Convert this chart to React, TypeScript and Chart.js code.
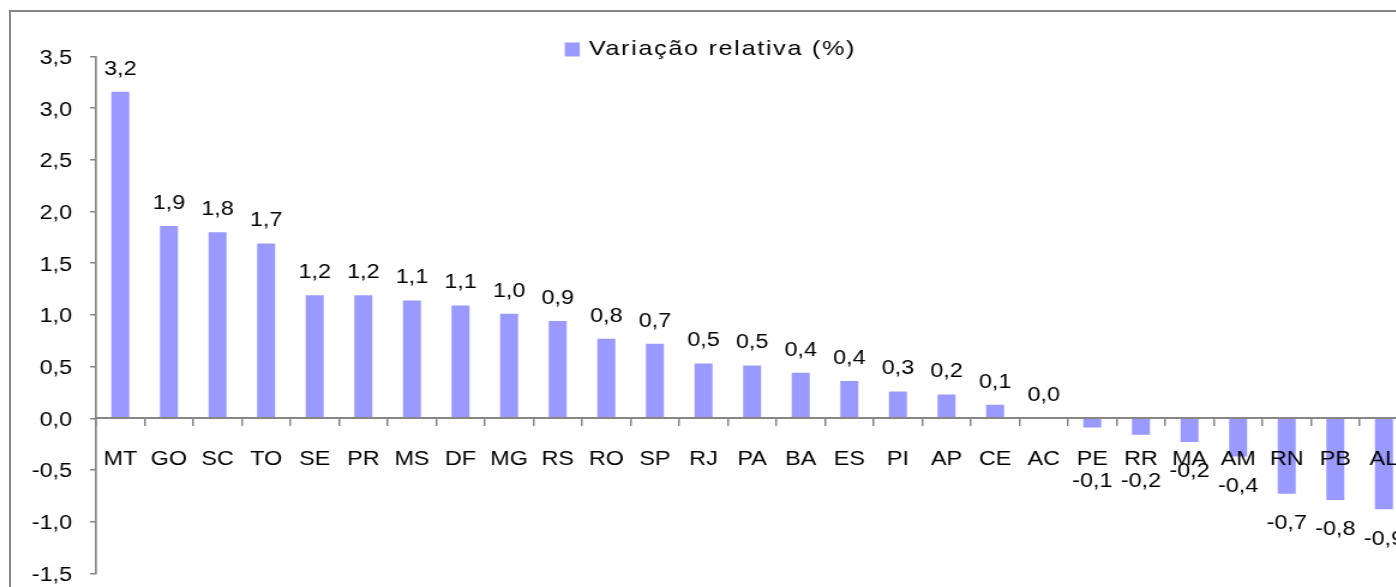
import React, { useEffect, useRef } from "react";
import { Chart, registerables } from "chart.js";

Chart.register(...registerables);

const categories = ["MT", "GO", "SC", "TO", "SE", "PR", "MS", "DF", "MG", "RS", "RO", "SP", "RJ", "PA", "BA", "ES", "PI", "AP", "CE", "AC", "PE", "RR", "MA", "AM", "RN", "PB", "AL"];
const variacao = [3.16, 1.86, 1.8, 1.69, 1.19, 1.19, 1.14, 1.09, 1.01, 0.94, 0.77, 0.72, 0.53, 0.51, 0.44, 0.36, 0.26, 0.23, 0.13, 0.0, -0.09, -0.16, -0.23, -0.37, -0.73, -0.79, -0.88];
const seriesLabel = "Variação relativa (%)";
const yMin = -1.5;
const yMax = 3.5;
const yStep = 0.5;

const FONT = "'Liberation Sans', Arial, Helvetica, sans-serif";
const GRAY = "#878787";
const BAR = "#9999FF";
const SX = 1.2;
const W = 1190;
const H = 600;

const fmt = (v: number) => v.toFixed(1).replace(".", ",");

const dataLabels = {
  id: "dataLabels",
  afterDatasetsDraw(chart: any) {
    const ctx = chart.ctx;
    const meta = chart.getDatasetMeta(0);
    const yScale = chart.scales.y;
    const base = yScale.getPixelForValue(0);
    ctx.save();
    ctx.font = `19.5px ${FONT}`;
    ctx.fillStyle = "#000";
    ctx.textAlign = "center";
    ctx.textBaseline = "middle";
    meta.data.forEach((el: any, i: number) => {
      const v = variacao[i];
      let y: number;
      if (v >= 0) {
        y = el.y - 22.5;
      } else {
        y = el.y + 30;
        if (y < base + 50) y = base + 63;
      }
      ctx.fillText(fmt(v), el.x, y);
    });
    ctx.restore();
  },
};

const customLegend = {
  id: "customLegend",
  afterDraw(chart: any) {
    const ctx = chart.ctx;
    const ds = chart.data.datasets[0];
    const area = chart.chartArea;
    ctx.save();
    ctx.font = `21px ${FONT}`;
    (ctx as any).letterSpacing = "1.4px";
    const tw = ctx.measureText(ds.label).width;
    const boxW = 12.5;
    const gap = 7.5;
    const total = boxW + gap + tw;
    const cx = chart.width / 2 - 3;
    const x0 = cx - total / 2;
    ctx.fillStyle = ds.backgroundColor;
    ctx.fillRect(x0, area.top - 14, boxW, 14);
    ctx.fillStyle = "#000";
    ctx.textAlign = "left";
    ctx.textBaseline = "middle";
    ctx.fillText(ds.label, x0 + boxW + gap, area.top - 7);
    ctx.restore();
  },
};

export default function App() {
  const ref = useRef<HTMLCanvasElement | null>(null);
  useEffect(() => {
    if (!ref.current) return;
    const chart = new Chart(ref.current, {
      type: "bar",
      data: {
        labels: categories,
        datasets: [
          {
            label: seriesLabel,
            data: variacao,
            backgroundColor: BAR,
            borderWidth: 0,
            categoryPercentage: 1,
            barPercentage: 0.37,
          },
        ],
      },
      options: {
        responsive: false,
        animation: false,
        devicePixelRatio: 1,
        layout: { padding: { top: 56.5, bottom: 23.5, left: 0, right: 16.5 } },
        plugins: {
          legend: { display: false },
          tooltip: { enabled: false },
        },
        scales: {
          x: {
            position: { y: 0 } as any,
            grid: {
              offset: true,
              drawOnChartArea: false,
              drawTicks: true,
              tickLength: 7,
              color: GRAY,
              lineWidth: 1.5,
              z: 1,
            },
            border: { display: true, color: GRAY, width: 2, z: 1 },
            ticks: {
              font: { family: FONT, size: 19.5 },
              color: "#000",
              padding: 23,
              autoSkip: false,
              maxRotation: 0,
              minRotation: 0,
              z: 1,
            },
          },
          y: {
            min: yMin,
            max: yMax,
            afterFit: (s: any) => {
              s.width = 80;
            },
            grid: {
              drawOnChartArea: false,
              drawTicks: true,
              tickLength: 5,
              color: GRAY,
              lineWidth: 1.5,
            },
            border: { display: true, color: GRAY, width: 1.7 },
            ticks: {
              stepSize: yStep,
              padding: 15,
              labelOffset: 2,
              font: { family: FONT, size: 19.5 },
              color: "#000",
              callback: (v: any) => fmt(Number(v)),
            },
          },
        },
      },
      plugins: [dataLabels, customLegend],
    });
    return () => chart.destroy();
  }, []);

  return (
    <div
      style={{
        position: "fixed",
        left: 0,
        top: 0,
        width: 1396,
        height: 587,
        overflow: "hidden",
        background: "#fff",
      }}
    >
      <div
        style={{
          position: "absolute",
          left: 9,
          top: 10,
          width: 1600,
          height: 800,
          border: `2px solid ${GRAY}`,
          boxSizing: "border-box",
        }}
      />
      <div
        style={{
          position: "absolute",
          left: 0,
          top: 0,
          width: W,
          height: H,
          transform: `scaleX(${SX})`,
          transformOrigin: "0 0",
        }}
      >
        <canvas ref={ref} width={W} height={H} style={{ display: "block" }} />
      </div>
    </div>
  );
}
